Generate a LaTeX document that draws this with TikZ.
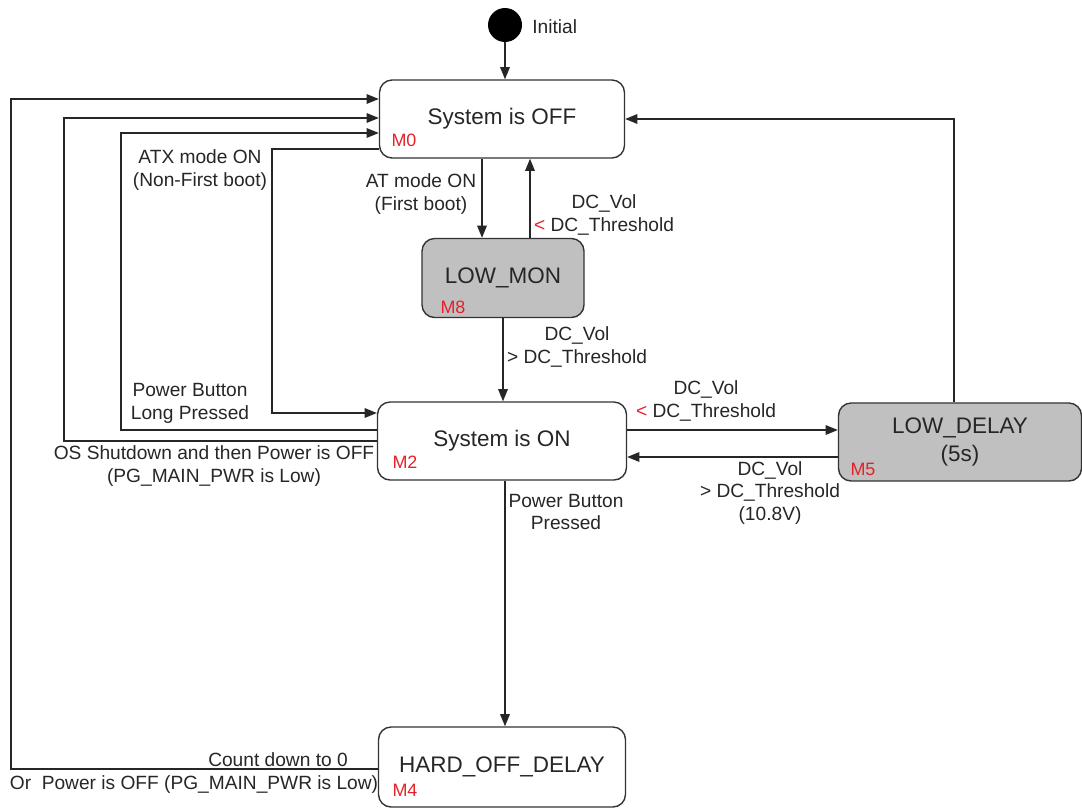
\documentclass[tikz,border=0pt]{standalone}
\usepackage{fontspec}
\setmainfont{Liberation Sans}
\usetikzlibrary{arrows.meta}
\definecolor{mred}{RGB}{230,32,40}
\definecolor{sgray}{RGB}{192,192,192}

\begin{document}
\begin{tikzpicture}[x=0.02cm,y=-0.02cm,
  state/.style={draw=black!80,line width=0.8pt,rounded corners=0.25cm,minimum height=1.56cm,text=black!85,font=\fontsize{12.8}{16}\selectfont,align=center},
  lowstate/.style={state,fill=sgray},
  mlab/.style={text=mred,font=\fontsize{10.2}{12}\selectfont,inner sep=0pt},
  lab/.style={text=black!85,font=\fontsize{10.9}{13}\selectfont,align=center,inner sep=0pt},
  trans/.style={draw=black!85,line width=0.8pt,-{Triangle[length=7pt,width=5.5pt]}}]
\useasboundingbox (0,0) rectangle (1082,808);

% states
\node[circle,fill=black,minimum size=0.68cm,inner sep=0pt] (init) at (505,25) {};
\node[lab,anchor=west] (initlab) at (532,27) {Initial};
\node[state,minimum width=4.9cm] (off) at (502,119) {System is OFF};
\node[lowstate,minimum width=3.24cm,minimum height=1.58cm] (lowmon) at (503,278) {LOW\_MON};
\node[state,minimum width=4.98cm] (on) at (502,441) {System is ON};
\node[lowstate,minimum width=4.86cm] (lowdelay) at (960,442) {LOW\_DELAY\\(5s)};
\node[state,minimum width=4.94cm,minimum height=1.6cm] (hardoff) at (502,767) {HARD\_OFF\_DELAY};

\node[mlab] (m0) at (404,140) {M0};
\node[mlab] (m8) at (453,307) {M8};
\node[mlab] (m2) at (405,462) {M2};
\node[mlab] (m5) at (863,469) {M5};
\node[mlab] (m4) at (405,790) {M4};

% transitions
\draw[trans] (init.south) -- (init.south |- off.north);
\draw[trans] (off.south -| 482,0) -- (lowmon.north -| 482,0);
\draw[trans] (lowmon.north -| 530,0) -- (off.south -| 530,0);
\draw[trans] (lowmon.south) -- (lowmon.south |- on.north);
\draw[trans] (on.east |- 0,430) -- (lowdelay.west |- 0,430);
\draw[trans] (lowdelay.west |- 0,457) -- (on.east |- 0,457);
\draw[trans] (lowdelay.north -| 954,0) |- (off.east);
\draw[trans] (on.south -| 505,0) -- (hardoff.north -| 505,0);
\draw[trans] (hardoff.west |- 0,769) -| (11,99) -- (off.west |- 0,99);
\draw[trans] (on.west |- 0,441) -| (64,118) -- (off.west |- 0,118);
\draw[trans] (on.west |- 0,430) -| (121,133) -- (off.west |- 0,133);
\draw[trans] (off.west |- 0,149) -| (272,413) -- (on.west |- 0,413);

% labels
\node[lab] (atmode) at (421,194) {AT mode ON\\(First boot)};
\node[lab] (vollow1) at (604,215) {DC\_Vol\\{\color{mred}<} DC\_Threshold};
\node[lab] (volhigh1) at (577,347) {DC\_Vol\\> DC\_Threshold};
\node[lab] (vollow2) at (706,401) {DC\_Vol\\{\color{mred}<} DC\_Threshold};
\node[lab] (volhigh2) at (770,493) {DC\_Vol\\> DC\_Threshold\\(10.8V)};
\node[lab] (pwrbtn) at (566,512) {Power Button\\Pressed};
\node[lab] (atxmode) at (200,170) {ATX mode ON\\(Non-First boot)};
\node[lab] (longpress) at (190,403) {Power Button\\Long Pressed};
\node[lab] (osoff) at (214,466) {OS Shutdown and then Power is OFF\\(PG\_MAIN\_PWR is Low)};
\node[lab] (countdown) at (278,760) {Count down to 0};
\node[lab] (orpower) at (194,785) {Or\ \ Power is OFF (PG\_MAIN\_PWR is Low)};
\end{tikzpicture}
\end{document}
